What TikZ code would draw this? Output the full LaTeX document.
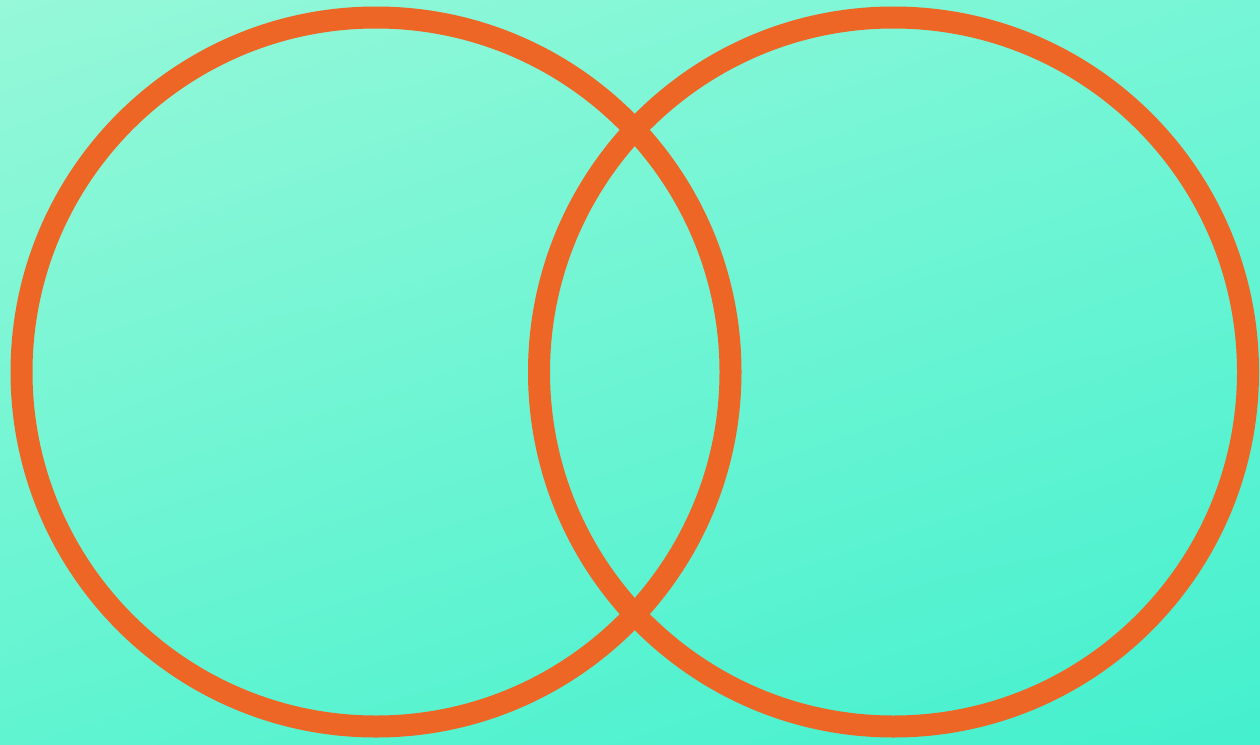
\documentclass[tikz,border=0pt]{standalone}
\usetikzlibrary{shadings}
\definecolor{bgUL}{HTML}{96F8D8}
\definecolor{bgUR}{HTML}{76F6D6}
\definecolor{bgLL}{HTML}{60F4D1}
\definecolor{bgLR}{HTML}{44F0CE}
\definecolor{ring}{HTML}{EE6626}
\tikzset{ringstyle/.style={draw=ring, line width=22pt}}
\begin{document}
\begin{tikzpicture}[x=1pt,y=-1pt]
\useasboundingbox (0,0) rectangle (1260,744);
\shade[upper left=bgUL, upper right=bgUR, lower left=bgLL, lower right=bgLR] (0,0) rectangle (1260,744);
\draw[ringstyle] (376,372) circle[radius=354.5];
\draw[ringstyle] (893.5,372) circle[radius=354.5];
\end{tikzpicture}
\end{document}
